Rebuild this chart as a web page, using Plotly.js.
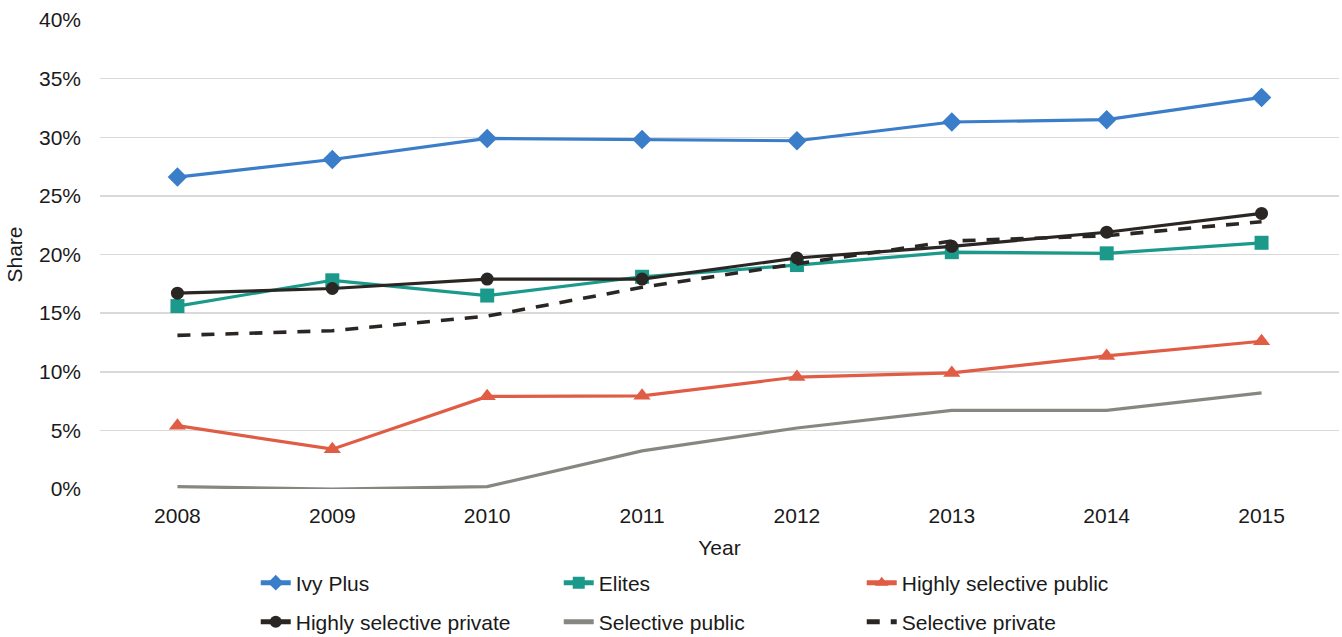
<!DOCTYPE html>
<html>
<head>
<meta charset="utf-8">
<script src="https://cdn.plot.ly/plotly-3.0.1.min.js"></script>
<style>
  html, body { margin: 0; padding: 0; background: #fff; }
  #chart { width: 1342px; height: 637px; }
</style>
</head>
<body>
<div id="chart"></div>
<script>
// Share by institution tier, 2008–2015 (percent)
const years = ['2008', '2009', '2010', '2011', '2012', '2013', '2014', '2015'];

const ivyPlus              = [26.6, 28.1, 29.9, 29.8, 29.7, 31.3, 31.5, 33.4];
const elites               = [15.6, 17.8, 16.5, 18.1, 19.1, 20.2, 20.1, 21.0];
const highlySelPublic      = [5.4, 3.4, 7.9, 7.95, 9.55, 9.9, 11.35, 12.6];
const highlySelPrivate     = [16.7, 17.1, 17.9, 17.9, 19.7, 20.7, 21.9, 23.5];
const selectivePublic      = [0.2, 0.0, 0.2, 3.25, 5.2, 6.7, 6.7, 8.2];
const selectivePrivate     = [13.1, 13.5, 14.75, 17.2, 19.2, 21.15, 21.6, 22.8];

const yTicks = [0, 5, 10, 15, 20, 25, 30, 35, 40];

const font = { family: 'Liberation Sans, Arial, sans-serif', size: 21, color: '#1a1a1a' };

function series(name, y, color, opts) {
  return Object.assign({
    type: 'scatter',
    mode: 'lines+markers',
    name: name,
    x: years,
    y: y,
    line: { color: color, width: 3.2 },
    cliponaxis: false
  }, opts);
}

const traces = [
  series('Ivy Plus', ivyPlus, '#3a7dc9',
    { marker: { symbol: 'diamond', size: 15, color: '#3a7dc9' }, legend: 'legend' }),
  series('Elites', elites, '#1b9a8b',
    { marker: { symbol: 'square', size: 14, color: '#1b9a8b' }, legend: 'legend' }),
  series('Highly selective public', highlySelPublic, '#e05c45',
    { marker: { symbol: 'triangle-up', size: 15, color: '#e05c45' }, legend: 'legend' }),
  series('Highly selective private', highlySelPrivate, '#2a2623',
    { marker: { symbol: 'circle', size: 13, color: '#2a2623' }, legend: 'legend2' }),
  series('Selective public', selectivePublic, '#878782',
    { mode: 'lines', legend: 'legend2' }),
  series('Selective private', selectivePrivate, '#2a2623',
    { mode: 'lines', line: { color: '#2a2623', width: 3.6, dash: '13px,11px' }, legend: 'legend2' })
];

const legendBase = {
  orientation: 'h',
  xanchor: 'left',
  yanchor: 'middle',
  entrywidth: 258,
  entrywidthmode: 'pixels',
  itemsizing: 'constant',
  font: font,
  bgcolor: 'rgba(0,0,0,0)',
  itemclick: false,
  itemdoubleclick: false,
  tracegroupgap: 0
};

const layout = {
  width: 1342,
  height: 637,
  margin: { l: 100, r: 3, t: 20, b: 148, autoexpand: false },
  paper_bgcolor: '#fff',
  plot_bgcolor: '#fff',
  font: font,
  showlegend: true,
  xaxis: {
    type: 'category',
    range: [-0.5, 7.5],
    showgrid: false,
    showline: false,
    zeroline: false,
    ticks: '',
    ticklabelstandoff: 12,
    tickfont: font,
    title: { text: 'Year', font: font, standoff: 14 },
    automargin: false
  },
  yaxis: {
    range: [0, 40],
    tickvals: yTicks,
    ticktext: yTicks.map(v => v + '%'),
    showgrid: true,
    gridcolor: '#d9d9d9',
    gridwidth: 1.5,
    showline: false,
    zeroline: false,
    ticks: '',
    ticklabelstandoff: 18,
    tickfont: font,
    title: { text: 'Share', font: font, standoff: 10 },
    automargin: false
  },
  legend: Object.assign({}, legendBase, { x: 0.1257, y: -0.2004 }),
  legend2: Object.assign({}, legendBase, { x: 0.1257, y: -0.2836 })
};

Plotly.newPlot('chart', traces, layout, { displayModeBar: false, staticPlot: true });
</script>
</body>
</html>
